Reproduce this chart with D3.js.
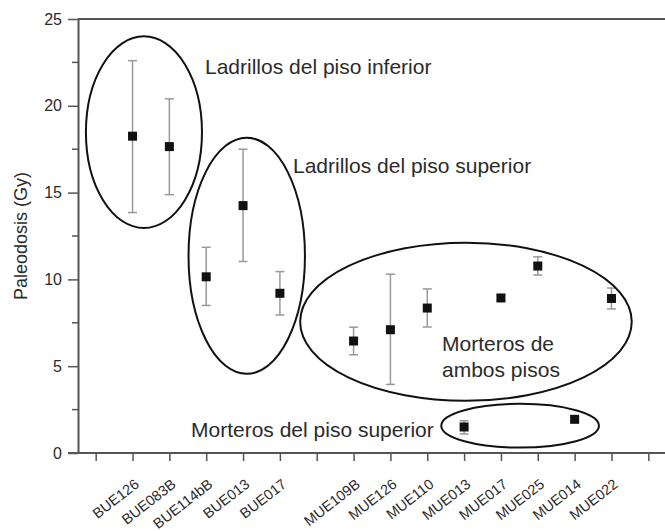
<!DOCTYPE html>
<html>
<head>
<meta charset="utf-8">
<script src="https://cdn.jsdelivr.net/npm/d3@7"></script>
<style>
  body { margin: 0; background: #fff; }
  svg { display: block; font-family: "Liberation Sans", Arial, sans-serif; }
</style>
</head>
<body>
<svg id="chart" width="665" height="531"></svg>
<script>
var width = 665;
var height = 531;

// sample names, one per x position (empty = unlabeled tick)
var samples = ["", "BUE126", "BUE083B", "BUE114bB", "BUE013", "BUE017", "",
    "MUE109B", "MUE126", "MUE110", "MUE013", "MUE017", "MUE025", "MUE014", "MUE022", ""];
// paleodose (Gy) and error bar limits
var dose  = [null, 18.25, 17.65, 10.15, 14.25, 9.2, null, 6.45, 7.1, 8.35, 1.5, 8.93, 10.77, 1.94, 8.9, null];
var upper = [null, 22.6, 20.4, 11.85, 17.5, 10.45, null, 7.25, 10.3, 9.45, 1.86, 9.1, 11.3, 2.05, 9.5, null];
var lower = [null, 13.85, 14.88, 8.5, 11.03, 7.95, null, 5.66, 3.95, 7.26, 1.1, 8.76, 10.25, 1.83, 8.3, null];
var yTicks = [0, 5, 10, 15, 20, 25];

// grouping ellipses, in data units (x index, Gy)
var groupNames = ["Ladrillos del piso inferior", "Ladrillos del piso superior", "Morteros de ambos pisos", "Morteros del piso superior"];
var groupCx = [1.31, 4.1, 10.05, 11.52];
var groupCy = [18.48, 11.36, 7.56, 1.57];
var groupRx = [1.575, 1.58, 4.5, 2.14];
var groupRy = [5.52, 6.8, 4.55, 1.26];

var margin = {left: 78, top: 19, right: 666, bottom: 453};

var svg = d3.select("#chart");

var x = d3.scaleLinear().domain([-0.48, 15.48]).range([margin.left, margin.right]);
var y = d3.scaleLinear().domain([0, 25]).range([margin.bottom, margin.top]);

var axisColor = "#555";
var textColor = "#2b2b2b";

// top frame line
svg.append("line")
    .attr("x1", margin.left).attr("x2", width)
    .attr("y1", margin.top).attr("y2", margin.top)
    .attr("stroke", axisColor).attr("stroke-width", 2);

// y axis
var yAxis = svg.append("g")
    .attr("transform", "translate(" + margin.left + ",0)")
    .call(d3.axisLeft(y).tickValues(yTicks).tickSize(10).tickPadding(6).tickSizeOuter(0));
yAxis.select(".domain").attr("stroke", axisColor).attr("stroke-width", 2);
yAxis.selectAll(".tick line").attr("stroke", axisColor).attr("stroke-width", 1.5);
yAxis.selectAll(".tick text").attr("fill", textColor)
    .style("font-size", "16px").style("font-family", "Liberation Sans, Arial, sans-serif");

// minor y ticks
svg.append("g").selectAll("line")
    .data(d3.range(2.5, 25, 5))
    .enter().append("line")
    .attr("x1", margin.left - 6).attr("x2", margin.left)
    .attr("y1", function(d){ return y(d); })
    .attr("y2", function(d){ return y(d); })
    .attr("stroke", axisColor).attr("stroke-width", 1.5);

// x axis
var xAxis = svg.append("g")
    .attr("transform", "translate(0," + margin.bottom + ")")
    .call(d3.axisBottom(x).tickValues(d3.range(samples.length))
        .tickFormat(function(i){ return samples[i]; })
        .tickSize(8).tickSizeOuter(0));
xAxis.select(".domain").attr("stroke", axisColor).attr("stroke-width", 2)
    .attr("d", "M" + (margin.left - 10) + ",0H" + width);
xAxis.selectAll(".tick line").attr("stroke", axisColor).attr("stroke-width", 1.5);
xAxis.selectAll(".tick text")
    .attr("fill", textColor)
    .style("font-size", "14.5px").style("font-family", "Liberation Sans, Arial, sans-serif")
    .attr("text-anchor", "end")
    .attr("dy", null)
    .attr("transform", "translate(7,33) rotate(-38)")
    .attr("y", 0).attr("x", 0);

// y axis title
svg.append("text")
    .attr("transform", "translate(27," + ((margin.top + margin.bottom) / 2) + ") rotate(-90)")
    .attr("text-anchor", "middle")
    .attr("fill", textColor)
    .style("font-size", "18px")
    .text("Paleodosis (Gy)");

// error bars
var pts = d3.range(samples.length).filter(function(i){ return dose[i] !== null; });

var bars = svg.append("g").attr("stroke", "#999").attr("stroke-width", 1.5);
bars.selectAll("line.v").data(pts).enter().append("line")
    .attr("class", "v")
    .attr("x1", function(i){ return x(i); }).attr("x2", function(i){ return x(i); })
    .attr("y1", function(i){ return y(upper[i]); })
    .attr("y2", function(i){ return y(lower[i]); });
bars.selectAll("line.t").data(pts).enter().append("line")
    .attr("class", "t")
    .attr("x1", function(i){ return x(i) - 4.5; }).attr("x2", function(i){ return x(i) + 4.5; })
    .attr("y1", function(i){ return y(upper[i]); })
    .attr("y2", function(i){ return y(upper[i]); });
bars.selectAll("line.b").data(pts).enter().append("line")
    .attr("class", "b")
    .attr("x1", function(i){ return x(i) - 4.5; }).attr("x2", function(i){ return x(i) + 4.5; })
    .attr("y1", function(i){ return y(lower[i]); })
    .attr("y2", function(i){ return y(lower[i]); });

// points
svg.append("g").selectAll("rect")
    .data(pts).enter().append("rect")
    .attr("x", function(i){ return x(i) - 4.5; })
    .attr("y", function(i){ return y(dose[i]) - 4.5; })
    .attr("width", 9).attr("height", 9)
    .attr("fill", "#111");

// group ellipses
svg.append("g").selectAll("ellipse")
    .data(d3.range(groupNames.length)).enter().append("ellipse")
    .attr("cx", function(g){ return x(groupCx[g]); })
    .attr("cy", function(g){ return y(groupCy[g]); })
    .attr("rx", function(g){ return x(groupRx[g]) - x(0); })
    .attr("ry", function(g){ return y(0) - y(groupRy[g]); })
    .attr("fill", "none").attr("stroke", "#111").attr("stroke-width", 2);

// group labels
var labels = svg.append("g").attr("fill", textColor).style("font-size", "21px");
labels.append("text").attr("x", 205).attr("y", 74).text(groupNames[0]);
labels.append("text").attr("x", 293).attr("y", 173).text(groupNames[1]);
var amb = labels.append("text").attr("x", 442).attr("y", 351);
amb.append("tspan").text("Morteros de");
amb.append("tspan").attr("x", 442).attr("dy", 26).text("ambos pisos");
labels.append("text").attr("x", 191).attr("y", 437).text(groupNames[3]);
</script>
</body>
</html>
